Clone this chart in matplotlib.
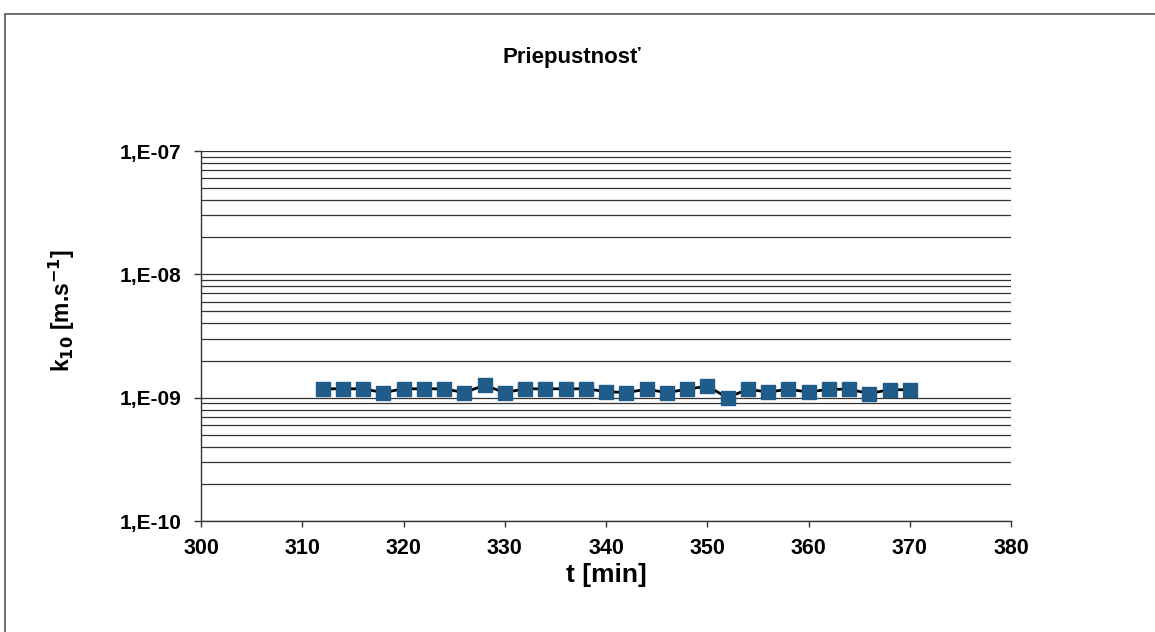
import matplotlib
matplotlib.use("Agg")
import matplotlib.pyplot as plt
from matplotlib.ticker import LogLocator, FixedLocator, FuncFormatter, NullFormatter
from matplotlib.patches import Rectangle

t_min = [312, 314, 316, 318, 320, 322, 324, 326, 328, 330,
         332, 334, 336, 338, 340, 342, 344, 346, 348, 350,
         352, 354, 356, 358, 360, 362, 364, 366, 368, 370]
k10 = [1.18e-9, 1.18e-9, 1.18e-9, 1.10e-9, 1.18e-9, 1.18e-9, 1.18e-9, 1.10e-9, 1.26e-9, 1.10e-9,
       1.18e-9, 1.18e-9, 1.18e-9, 1.18e-9, 1.12e-9, 1.10e-9, 1.17e-9, 1.10e-9, 1.17e-9, 1.24e-9,
       1.00e-9, 1.17e-9, 1.11e-9, 1.17e-9, 1.11e-9, 1.17e-9, 1.17e-9, 1.08e-9, 1.16e-9, 1.16e-9]
x_ticks = [300, 310, 320, 330, 340, 350, 360, 370, 380]
y_ticks = [1e-10, 1e-9, 1e-8, 1e-7]
y_tick_labels = ["1,E-10", "1,E-09", "1,E-08", "1,E-07"]

plt.rcParams['font.family'] = ['Liberation Sans', 'DejaVu Sans']

fig = plt.figure(figsize=(11.55, 6.32), dpi=100)
fig.patches.append(Rectangle((5/1155, -0.1), 1.2, 1 - 14/632 + 0.1, transform=fig.transFigure,
                             fill=False, edgecolor='#555555', linewidth=1.2))
ax = fig.add_axes([201/1155, 1 - 521/632, 810/1155, 370/632])
ax.set_yscale('log')
ax.set_xlim(300, 380)
ax.set_ylim(1e-10, 1e-7)

ax.yaxis.set_major_locator(FixedLocator(y_ticks))
ax.yaxis.set_major_formatter(FuncFormatter(lambda v, p: y_tick_labels[y_ticks.index(min(y_ticks, key=lambda q: abs(q - v)))]))
ax.yaxis.set_minor_locator(LogLocator(base=10, subs=range(2, 10)))
ax.yaxis.set_minor_formatter(NullFormatter())
ax.set_xticks(x_ticks)

ax.grid(True, which='both', axis='y', color='#333333', linewidth=0.9)
ax.set_axisbelow(True)
for s in ['top', 'right']:
    ax.spines[s].set_visible(False)
for s in ['left', 'bottom']:
    ax.spines[s].set_color('#333333')
    ax.spines[s].set_linewidth(1.0)
ax.tick_params(axis='y', which='major', direction='out', length=5, width=1, color='#333333',
               labelsize=15, pad=9)
ax.tick_params(axis='x', which='major', direction='out', length=4, width=1, color='#333333',
               labelsize=15.5, pad=8)
ax.tick_params(axis='y', which='minor', length=0)
for lab in ax.get_xticklabels() + ax.get_yticklabels():
    lab.set_fontweight('bold')

ax.plot(t_min, k10, color='black', linewidth=2, marker='s', markersize=10,
        markerfacecolor='#1f5c8a', markeredgecolor='#1f5c8a', zorder=3)

fig.text(572/1155, 1 - 58/632, "Priepustnosť", ha='center', va='center', fontsize=16, fontweight='bold')
fig.text(606/1155, 1 - 575/632, "t [min]", ha='center', va='center', fontsize=19, fontweight='bold')
fig.text(62/1155, 1 - 310/632, r"k$_{\mathbf{10}}$ [m.s$^{\mathbf{-1}}$]", ha='center', va='center',
         fontsize=16.5, fontweight='bold', rotation=90)

fig.savefig("out.png", dpi=100)
